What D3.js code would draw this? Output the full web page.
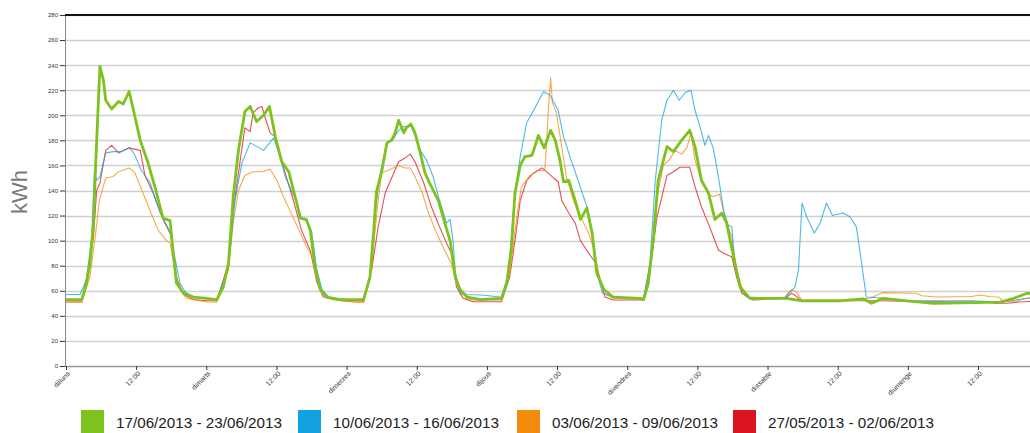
<!DOCTYPE html>
<html>
<head>
<meta charset="utf-8">
<script src="https://cdn.jsdelivr.net/npm/d3@7/dist/d3.min.js"></script>
<style>
  body { margin: 0; background: #fff; }
  svg { display: block; font-family: "Liberation Sans", Arial, sans-serif; }
</style>
</head>
<body>
<div id="chart"></div>
<script>
// x ticks every 12 hours (hour of the week)
var xTickHours = [0, 12, 24, 36, 48, 60, 72, 84, 96, 108, 120, 132, 144, 156];
var xTickLabels = ['dilluns', '12:00', 'dimarts', '12:00', 'dimecres', '12:00', 'dijous',
  '12:00', 'divendres', '12:00', 'dissabte', '12:00', 'diumenge', '12:00'];
var yTickValues = [0, 20, 40, 60, 80, 100, 120, 140, 160, 180, 200, 220, 240, 260, 280];

var seriesNames = ['17/06/2013 - 23/06/2013', '10/06/2013 - 16/06/2013',
  '03/06/2013 - 09/06/2013', '27/05/2013 - 02/06/2013'];
var seriesColors = ['#7dc21e', '#12a2e2', '#f38c0c', '#dc1420'];

// [hour of week, kWh]
var week0617 = [
  [0,53],[2.7,53],[3.5,66],[4.1,82],[4.7,114],[5.1,164],[5.8,239],[6.4,228],[6.8,212],[7.8,205],
  [9,211],[9.8,209],[10.8,219],[11.5,205],[12.7,180],[13.9,164],[15.2,143],[16.6,118],[17.8,116],
  [18.4,87],[18.9,66],[20.1,58],[21.8,55],[24,54],
  [25.8,53],[26.9,63],[27.8,82],[28.6,135],[29.5,172],[30.6,203],[31.5,207],[32.6,195],[33.8,200],
  [34.8,207],[35.8,183],[36.9,163],[38.1,155],[39.2,135],[40.1,118],[41.1,117],[41.8,108],[42.6,79],
  [43.5,61],[44.6,55],[46.9,53],
  [50.9,53],[52,71],[52.6,106],[53.1,139],[54,155],[54.9,178],[55.7,180],[56.3,186],[56.9,196],
  [57.8,186],[58.2,190],[59,193],[59.7,186],[60.6,170],[61.4,154],[62.5,143],[63.7,132],[64.8,114],
  [65.7,100],[66.6,71],[67.4,61],[68.6,55],[70.9,53],
  [74.5,54],[75.4,66],[76.2,95],[76.8,138],[77.7,160],[78.5,167],[79.7,168],[80.2,175],[80.8,184],
  [81.8,174],[82.9,188],[83.7,180],[84.5,164],[85.1,147],[86,148],[87.1,132],[88,117],[89.1,126],
  [90,106],[90.8,74],[92,61],[93.6,55],[98.2,54],
  [98.8,53],[99.6,66],[100.5,103],[101.3,148],[102.8,175],[103.9,171],[105.3,180],[106.7,188],
  [107.6,175],[108.7,148],[109.9,138],[111,117],[112.2,122],[113,114],[114.2,87],[115.3,63],[117,54],
  [118.7,54],[123.3,54],[125.9,52],[132.3,52],[136.4,53.5],[137.8,50],[139.8,54],[143.8,52],
  [148.4,50],[155.3,50.5],[159.8,51],[162.1,54],[164.4,58],[167,58]
];
var week0610 = [
  [0,57],[2.4,57],[3.5,69],[4.4,103],[4.85,155],[5.25,148],[5.8,151],[6.8,170],[8.1,171],[9.5,171],
  [10.8,174],[11.6,170],[12.9,156],[14.4,146],[16.1,122],[17.8,107],[18.6,87],[19.5,66],[20.4,59],
  [21.8,55],[24,54],
  [25.8,53],[27.8,79],[28.9,132],[30.1,162],[31.5,178],[32.3,176],[33.8,172],[35.5,182],[36.6,167],
  [37.5,151],[38.3,143],[39.5,130],[40.3,117],[41.2,116],[42,108],[42.9,77],[43.8,61],[45.2,54],[48,53],
  [50.9,53],[52,71],[52.8,119],[53.6,150],[54.9,178],[56,181],[56.9,188],[57.8,191],[59.1,191],
  [60.6,172],[61.7,164],[62.8,151],[63.9,132],[65.1,114],[65.7,117],[66.2,100],[66.6,74],[67.4,58],
  [68.6,57],[71,56.6],[74.3,55],
  [74.5,55],[75.7,74],[76.8,138],[77.7,167],[78.8,194],[80,204],[81.7,219],[82.8,216],[84.2,204],
  [85.1,183],[86.2,167],[87.6,148],[89.1,127],[90,108],[90.8,74],[91.8,58],[93.6,55],[98.2,54],
  [98.8,54],[99.9,82],[100.8,148],[101.9,196],[102.8,212],[103.9,220],[104.9,212],[105.9,218],
  [106.9,220],[107.6,204],[108.5,190],[109.3,176],[109.9,184],[110.7,174],[111.6,151],[112.5,124],
  [113.3,112],[113.9,111],[114.3,87],[115.3,63],[116.4,55],
  [122,54],[123,55],[124.7,63],[125.3,77],[125.9,130],[126.7,119],[128,106],[129,114],[130.1,130],
  [131.1,120],[132.9,122],[134.1,119],[135.2,111],[136.1,82],[136.9,55],[140.3,54],[143.8,52],
  [155,52],[160,51],[163,53],[167,56]
];
var week0603 = [
  [0,51],[2.7,51],[4.1,71],[5,103],[5.7,132],[6.8,150],[8,151],[9,155],[10.8,158],[11.8,154],
  [13,140],[14.1,127],[15.8,108],[17.2,100],[17.8,98],[18.6,77],[19.5,61],[20.6,54],[24,51],
  [25.8,51],[27.8,77],[28.6,114],[29.5,140],[30.6,152],[32,155],[33.5,155],[34.9,157],[36.1,148],
  [37.2,135],[38.3,124],[40.1,106],[41.2,95],[42.1,87],[42.9,71],[43.8,58],[45.5,53],[49.7,51],
  [50.9,51],[52.3,77],[52.6,95],[53.4,132],[54,154],[55,156],[56.9,160],[58,158],[58.9,158],
  [59.7,151],[60.9,139],[62,122],[63.4,106],[64.8,92],[65.9,82],[66.8,66],[67.9,54.5],[69.6,52.6],
  [74.5,52.6],[75.9,74],[77.1,119],[77.9,143],[79.4,152],[80.8,156],[81.9,156],[82.2,178],[82.5,204],
  [82.9,230],[83.2,210],[83.9,202],[84.8,175],[85.6,151],[86.8,132],[88,119],[89.4,106],[90.5,90],
  [91.1,74],[92,58],[93.6,54],[98.8,53],
  [100.2,87],[101.1,135],[102.2,160],[103.1,164],[104.2,172],[105.3,169],[106.2,174],[106.9,186],
  [107.6,164],[108.7,148],[109.9,137],[110.7,135],[111.8,137],[112.7,119],[113.9,103],[114.7,77],
  [115.9,58],[117.5,53],
  [123,54],[123.6,59],[124.2,61],[124.9,59],[125.9,52.6],[132.3,52.6],[137.5,54],[138.8,56.6],
  [139.6,58.5],[145.5,58],[146.4,56],[149,55],[151.9,55.3],[154.7,55.3],[156.4,56.6],[158.1,55.3],
  [159.6,55],[160.4,51.3],[162.7,52],[164.4,54],[167,56]
];
var week0527 = [
  [0,51],[2.7,51],[3.8,77],[4.7,103],[5.25,140],[5.8,146],[6.8,172],[7.8,176],[9,170],[9.8,172],
  [10.8,174],[12.7,172],[13.5,152],[14.9,138],[16.6,117],[18.1,103],[18.9,70],[20.1,57],[21.8,53],[24,52],
  [25.8,52],[27.8,82],[28.6,124],[29.8,164],[30.6,190],[31.5,187],[32,202],[32.9,206],[33.5,207],
  [34,199],[34.9,186],[35.8,183],[36.9,163],[38.9,132],[40.3,108],[41.8,92],[42.9,67],[44,55],[47,52],
  [49.7,51],[50.9,51],[52.3,77],[53.4,111],[54.6,138],[55.7,150],[56.9,163],[58,166],[58.9,169],
  [59.7,163],[61.2,146],[62.5,127],[63.9,111],[65.1,98],[65.9,90],[66.8,63],[67.9,54],[69.6,51.3],
  [74.5,51.3],[75.9,71],[76.8,100],[77.7,132],[78.8,148],[80,154],[81.4,158],[82.2,155],[83.4,150],
  [84.2,147],[84.8,132],[86,122],[87.1,114],[88,100],[89.4,90],[90.5,83],[91.4,69],[92.2,55],
  [93.6,52.6],[98.8,52.6],
  [100.2,87],[101.1,119],[102.8,152],[103.9,155],[105,158.5],[106.7,158.5],[107.6,143],[108.7,127],
  [110.1,111],[111.6,92.5],[112.5,90],[113.9,87],[114.7,71],[115.6,58],[117.5,52.6],
  [123,54],[124.1,58],[124.8,56],[125.9,52],[139,52],[148,51.3],[157,51],[159,50],[161,50],[163,51],
  [167,52]
];

var allSeries = [week0617, week0610, week0603, week0527];

function drawChart() {
  var width = 1030;
  var height = 433;
  var left = 65;
  var top = 15;
  var bottom = 366;

  var svg = d3
    .select('#chart')
    .append('svg')
    .attr('width', width)
    .attr('height', height)
  ;

  var x = d3.scaleLinear()
    .domain([0, 168])
    .range([66, 66 + 168 * 5.846])
  ;
  var y = d3.scaleLinear()
    .domain([0, 280])
    .range([bottom, top])
  ;

  // horizontal grid
  svg
    .append('g')
    .selectAll('line')
    .data(yTickValues.slice(1))
    .enter()
    .append('line')
    .attr('x1', left)
    .attr('x2', width)
    .attr('y1', function(d) { return Math.round(y(d)) + 0.5; })
    .attr('y2', function(d) { return Math.round(y(d)) + 0.5; })
    .attr('stroke', '#d0d0d0')
    .attr('stroke-width', 1.4)
  ;

  // y axis
  var yAxis = svg
    .append('g')
    .attr('transform', 'translate(' + left + ',0)')
    .call(d3.axisLeft(y).tickValues(yTickValues).tickSize(5).tickPadding(2))
  ;
  yAxis.select('.domain').attr('stroke', '#888');
  yAxis.selectAll('.tick line').attr('stroke', '#333');
  yAxis.selectAll('.tick text')
    .attr('font-size', '6px')
    .attr('fill', '#333')
  ;

  // x axis
  var xAxis = svg
    .append('g')
    .attr('transform', 'translate(0,' + bottom + ')')
    .call(
      d3.axisBottom(x)
        .tickValues(xTickHours)
        .tickSize(4)
        .tickFormat(function(d, i) { return xTickLabels[i]; })
    )
  ;
  xAxis.select('.domain')
    .attr('d', 'M' + left + ',0.5H' + width)
    .attr('stroke', '#999')
    .attr('stroke-width', 1.5)
  ;
  xAxis.selectAll('.tick line').attr('stroke', '#333');
  xAxis.selectAll('.tick text')
    .attr('font-size', '7px')
    .attr('fill', '#333')
    .attr('text-anchor', 'end')
    .attr('dy', 0)
    .attr('y', 0)
    .attr('transform', 'translate(4,8) rotate(-45)')
  ;

  // top border
  svg
    .append('line')
    .attr('x1', left)
    .attr('x2', width)
    .attr('y1', top)
    .attr('y2', top)
    .attr('stroke', '#111')
    .attr('stroke-width', 2)
  ;

  // y label
  svg
    .append('text')
    .attr('transform', 'translate(27,192) rotate(-90)')
    .attr('text-anchor', 'middle')
    .attr('font-size', '22px')
    .attr('fill', '#7a7a7a')
    .text('kWh')
  ;

  var line = d3.line()
    .x(function(d) { return x(d[0]); })
    .y(function(d) { return y(d[1]); })
  ;

  // draw oldest first, current week on top
  var order = [3, 2, 1, 0];
  var lines = svg.append('g');
  order.forEach(function(i) {
    lines
      .append('path')
      .datum(allSeries[i])
      .attr('d', line)
      .attr('fill', 'none')
      .attr('stroke', seriesColors[i])
      .attr('stroke-width', i === 0 ? 2.8 : 1.1)
      .attr('stroke-opacity', i === 0 ? 1 : 0.75)
      .attr('stroke-linejoin', 'round')
    ;
  });

  // legend
  var legendX = [81, 298, 517, 733];
  var legend = svg
    .append('g')
    .selectAll('g')
    .data(seriesNames)
    .enter()
    .append('g')
    .attr('transform', function(d, i) { return 'translate(' + legendX[i] + ',410)'; })
  ;
  legend
    .append('rect')
    .attr('width', 23)
    .attr('height', 23)
    .attr('fill', function(d, i) { return seriesColors[i]; })
  ;
  legend
    .append('text')
    .attr('x', 35)
    .attr('y', 18)
    .attr('font-size', '14px')
    .attr('fill', '#222')
    .attr('textLength', 166)
    .attr('lengthAdjust', 'spacingAndGlyphs')
    .text(function(d) { return d; })
  ;
}

drawChart();
</script>
</body>
</html>
